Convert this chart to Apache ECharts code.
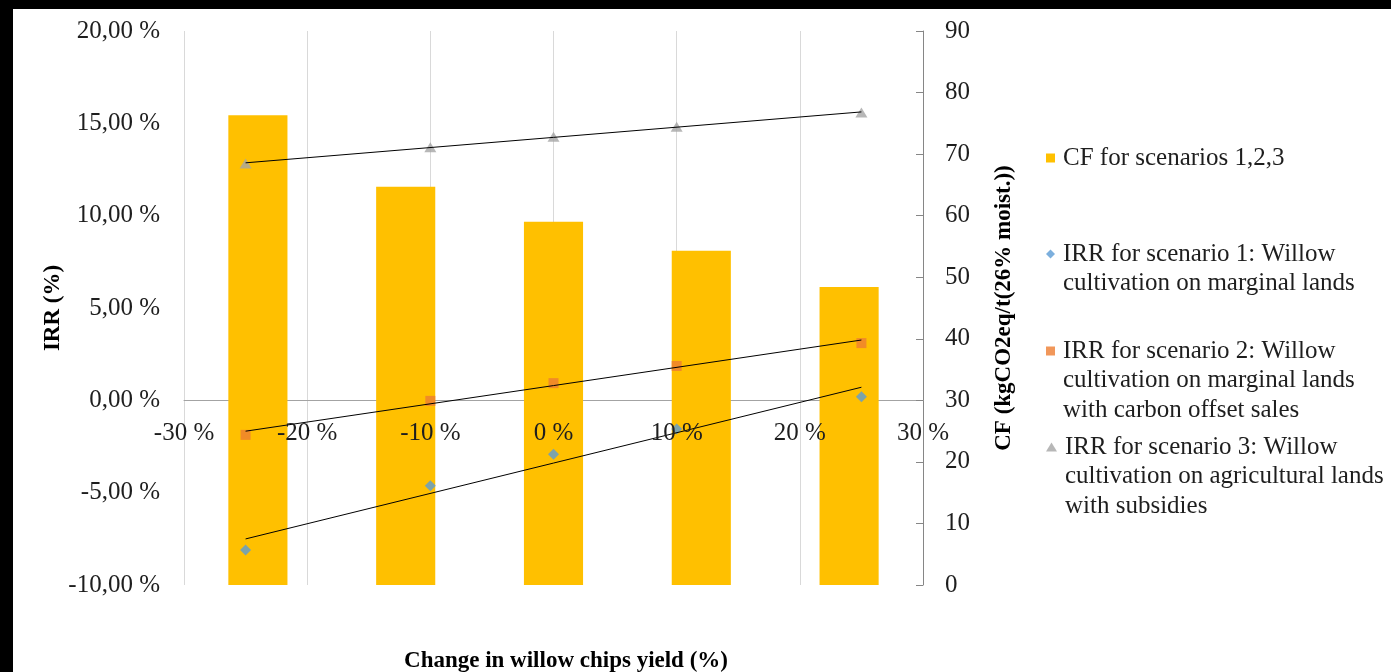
<!DOCTYPE html>
<html>
<head>
<meta charset="utf-8">
<title>IRR and CF vs. change in willow chips yield</title>
<script src="https://cdn.jsdelivr.net/npm/echarts@6/dist/echarts.min.js"></script>
<style>
  html, body { margin: 0; padding: 0; background: #000; width: 1391px; height: 672px; overflow: hidden; }
  #chart { position: absolute; left: 13px; top: 9px; width: 1378px; height: 663px; background: #fff; }
</style>
</head>
<body>
<div id="chart"></div>
<script>
// Yield change scenarios (%)
const yieldChange = [-25, -10, 0, 10, 25];
const barCategories = ['-25 %', '-10 %', '0 %', '10 %', '25 %'];

// Carbon footprint, kgCO2eq per tonne of chips at 26% moisture (right axis)
const cfValues = [76.3, 64.7, 59.0, 54.3, 48.4];

// Internal rate of return (%) per scenario (left axis)
const irrScenario1 = [-8.10, -4.62, -2.92, -1.55, 0.20];
const irrScenario2 = [-1.87, -0.03, 0.93, 1.86, 3.10];
const irrScenario3 = [12.83, 13.70, 14.27, 14.82, 15.58];

// Legend wording, one entry per line
const legendCF = ['CF for scenarios 1,2,3'];
const legendS1 = ['IRR for scenario 1: Willow', 'cultivation on marginal lands'];
const legendS2 = ['IRR for scenario 2: Willow', 'cultivation on marginal lands', 'with carbon offset sales'];
const legendS3 = ['IRR for scenario 3: Willow', 'cultivation on agricultural lands', 'with subsidies'];

const FONT = "'Liberation Serif', 'Times New Roman', serif";
const TEXT_COLOR = '#1e1e1e';

// IRR axis range; the yield axis is drawn where IRR = 0
const IRR_MIN = -10, IRR_MAX = 20;

// Least-squares linear trend over the scenario points
function linearTrend(xs, ys) {
  const n = xs.length;
  const mx = xs.reduce((a, b) => a + b, 0) / n;
  const my = ys.reduce((a, b) => a + b, 0) / n;
  let sxy = 0, sxx = 0;
  for (let i = 0; i < n; i++) { sxy += (xs[i] - mx) * (ys[i] - my); sxx += (xs[i] - mx) * (xs[i] - mx); }
  const slope = sxy / sxx;
  const x0 = xs[0], x1 = xs[n - 1];
  return [[x0, my + slope * (x0 - mx)], [x1, my + slope * (x1 - mx)]];
}

const pairs = ys => yieldChange.map((x, i) => [x, ys[i]]);

const legendLines = [legendCF, legendS1, legendS2, legendS3];
const names = legendLines.map(l => l.join(' '));
const legendIcons = ['rect', 'diamond', 'rect', 'triangle'];
const legendIconSize = [[9, 9], [9, 9], [9, 9], [11, 9]];
const LINE_H = 29.5;
const legendCenters = [149, 245, 342, 438];

// The legend icon sits on the middle of its text block; leading blank lines
// move the first wording line onto that middle so the icon lines up with it.
const legends = legendLines.map((lines, i) => ({
  orient: 'vertical',
  left: 1033,
  top: legendCenters[i] - (2 * lines.length - 1) * LINE_H / 2,
  padding: 0,
  itemWidth: legendIconSize[i][0],
  itemHeight: legendIconSize[i][1],
  selectedMode: false,
  data: [{ name: names[i], icon: legendIcons[i] }],
  formatter: () => new Array(lines.length - 1).fill('').concat(lines).join('\n'),
  textStyle: {
    fontFamily: FONT, fontSize: 25, lineHeight: LINE_H, color: TEXT_COLOR,
    padding: [0, 0, 0, 3]
  }
}));

// Plot box inside the chart container
const PLOT = { left: 171, right: 468, top: 22, bottom: 87 };
const chartHeight = 663;
const plotHeight = chartHeight - PLOT.top - PLOT.bottom;
// Upper band that ends on the IRR zero line; it carries the yield tick labels
const zeroBandHeight = plotHeight * IRR_MAX / (IRR_MAX - IRR_MIN);

const chart = echarts.init(document.getElementById('chart'), null, { renderer: 'canvas' });

chart.setOption({
  animation: false,
  backgroundColor: '#fff',
  grid: [
    { left: PLOT.left, right: PLOT.right, top: PLOT.top, bottom: PLOT.bottom, containLabel: false, outerBoundsMode: 'none' },
    { left: PLOT.left, right: PLOT.right, top: PLOT.top, height: zeroBandHeight, containLabel: false, outerBoundsMode: 'none' }
  ],
  legend: legends,
  xAxis: [
    {
      // scale for the scatter points, vertical gridlines and the zero line (under the bars)
      gridIndex: 0, type: 'value', min: -30, max: 30, interval: 10,
      axisLine: { show: true, onZero: true, onZeroAxisIndex: 0, lineStyle: { color: '#a3a3a3', width: 1 } },
      axisTick: { show: false }, axisLabel: { show: false },
      splitLine: { show: true, lineStyle: { color: '#d9d9d9', width: 1 } }
    },
    {
      // evenly spaced slots for the CF bars
      gridIndex: 0, type: 'category', data: barCategories, show: false, boundaryGap: true, position: 'bottom'
    },
    {
      // yield tick labels and title, written over the bars
      gridIndex: 1, type: 'value', min: -30, max: 30, interval: 10, position: 'bottom', z: 6,
      axisLine: { show: false, onZero: false },
      axisTick: { show: false },
      splitLine: { show: false },
      axisLabel: { formatter: v => v + ' %', margin: 21, fontFamily: FONT, fontSize: 25, color: TEXT_COLOR },
      name: 'Change in willow chips yield (%)',
      nameLocation: 'middle', nameGap: 249, nameMoveOverlap: false,
      nameTextStyle: { fontFamily: FONT, fontSize: 23, fontWeight: 'bold', color: '#000', padding: [0, 0, 0, 25] }
    }
  ],
  yAxis: [
    {
      gridIndex: 0, type: 'value', position: 'left', min: IRR_MIN, max: IRR_MAX, interval: 5,
      axisLine: { show: false, onZero: false },
      axisTick: { show: false },
      splitLine: { show: false },
      axisLabel: { formatter: v => v.toFixed(2).replace('.', ',') + ' %', margin: 24, fontFamily: FONT, fontSize: 25, color: TEXT_COLOR },
      name: 'IRR (%)', nameLocation: 'middle', nameGap: 119, nameRotate: 90, nameMoveOverlap: false,
      nameTextStyle: { fontFamily: FONT, fontSize: 23, fontWeight: 'bold', color: '#000' }
    },
    {
      gridIndex: 0, type: 'value', position: 'right', min: 0, max: 90, interval: 10,
      axisLine: { show: true, onZero: false, lineStyle: { color: '#868686', width: 1 } },
      axisTick: { show: true, inside: true, length: 7, lineStyle: { color: '#868686' } },
      splitLine: { show: false },
      axisLabel: { margin: 22, fontFamily: FONT, fontSize: 25, color: TEXT_COLOR },
      name: 'CF (kgCO2eq/t(26% moist.))', nameLocation: 'middle', nameGap: 70, nameRotate: 90, nameMoveOverlap: false,
      nameTextStyle: { fontFamily: FONT, fontSize: 23, fontWeight: 'bold', color: '#000' }
    },
    {
      gridIndex: 1, type: 'value', min: 0, max: IRR_MAX, show: false
    }
  ],
  series: [
    {
      name: names[0], type: 'bar', xAxisIndex: 1, yAxisIndex: 1,
      data: cfValues, barWidth: '40%', itemStyle: { color: '#FFC000' }, z: 2
    },
    {
      name: names[1], type: 'scatter', xAxisIndex: 0, yAxisIndex: 0,
      data: pairs(irrScenario1), symbol: 'diamond', symbolSize: 11,
      itemStyle: { color: '#5B9BD5' }, z: 3
    },
    {
      name: names[2], type: 'scatter', xAxisIndex: 0, yAxisIndex: 0,
      data: pairs(irrScenario2), symbol: 'rect', symbolSize: 10,
      itemStyle: { color: '#ED7D31' }, z: 3
    },
    {
      name: names[3], type: 'scatter', xAxisIndex: 0, yAxisIndex: 0,
      data: pairs(irrScenario3), symbol: 'triangle', symbolSize: [12, 10],
      itemStyle: { color: '#A5A5A5' }, z: 3
    },
    ...[irrScenario1, irrScenario2, irrScenario3].map((ys, i) => ({
      name: 'Linear (IRR scenario ' + (i + 1) + ')', type: 'line', xAxisIndex: 0, yAxisIndex: 0,
      data: linearTrend(yieldChange, ys), showSymbol: false, symbol: 'none',
      lineStyle: { color: '#000', width: 1 }, z: 4, silent: true
    }))
  ]
});
</script>
</body>
</html>
